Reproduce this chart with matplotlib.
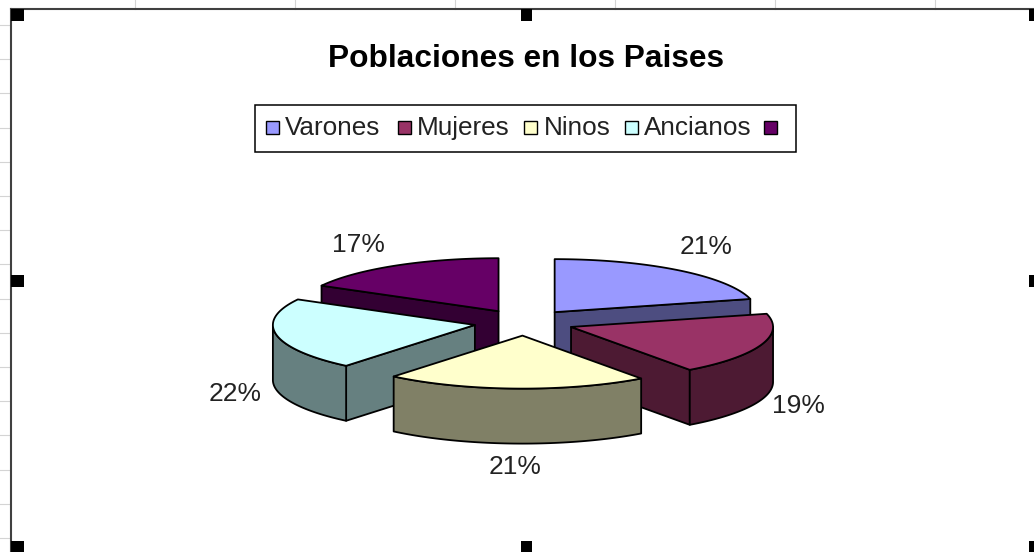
import numpy as np
import matplotlib
matplotlib.use("Agg")
import matplotlib.pyplot as plt
from matplotlib.patches import Polygon, Rectangle

plt.rcParams['font.family'] = ['Liberation Sans', 'DejaVu Sans']

title = "Poblaciones en los Paises"
names = ["Varones", "Mujeres", "Ninos", "Ancianos", ""]
values = [21, 19, 21, 22, 17]
top_colors = ["#9999FF", "#993366", "#FFFFCC", "#CCFFFF", "#660066"]
side_colors = ["#4D4D80", "#4D1A33", "#808066", "#668080", "#330033"]

# pie geometry in pixels
cx, cy = 524, 322.5
rx, ry = 202, 53
depth = 55
explode = 50

# where the percent labels and the legend items sit
label_pos = [(706, 247), (798, 406), (515, 467), (235, 394), (358, 245)]
swatch_x = [266, 398, 524, 625, 764]
name_x = [285, 417, 544, 644, 0]
handles = [(11, 9), (521, 9), (1029, 9), (11, 275), (1029, 275), (11, 541), (521, 541), (1029, 541)]

fig = plt.figure(figsize=(10.34, 5.52), dpi=100)
ax = fig.add_axes([0, 0, 1, 1])
ax.set_xlim(0, 1034)
ax.set_ylim(552, 0)
ax.axis("off")

# spreadsheet grid behind the chart
for x in [135, 295, 455, 615, 775, 935]:
    ax.plot([x, x], [0, 9], color="#d4d4d4", lw=0.8)
for y in np.arange(25, 540, 34.2):
    ax.plot([0, 10], [y, y], color="#d4d4d4", lw=0.8)

# chart frame, open on the right and at the bottom
ax.plot([11, 11], [552, 9], color="#404040", lw=1.5)
ax.plot([11, 1034], [9, 9], color="#404040", lw=1.5)
for x, y in handles:
    ax.add_patch(Rectangle((x, y), 13 if x < 1000 else 5, 12, fc="black", ec="none", zorder=5))
    if x == 521:
        ax.patches[-1].set_width(11)

ax.text(526, 59, title, ha="center", va="center", fontsize=22.8, fontweight="bold", color="black")

ax.add_patch(Rectangle((255, 105), 541, 47, fc="white", ec="black", lw=1.1))
for i in range(len(names)):
    ax.add_patch(Rectangle((swatch_x[i], 121), 13, 13, fc=top_colors[i], ec="black", lw=1.0))
    if names[i]:
        ax.text(name_x[i], 128, names[i], ha="left", va="center", fontsize=18.8, color="#222222")


def point(ax0, ay0, a):
    # angles run clockwise from the top of the pie
    return ax0 + rx * np.sin(a), ay0 - ry * np.cos(a)


def draw_slice(i, start, end):
    mid = (start + end) / 2
    x0 = cx + explode * np.sin(mid)
    y0 = cy - explode * ry / rx * np.cos(mid)
    arc = np.linspace(start, end, 60)
    xs, ys = point(x0, y0, arc)
    kw = dict(fc=side_colors[i], ec="black", lw=1.3, joinstyle="round")

    # walls facing the viewer
    for a, seen in [(start, np.sin(start) < -1e-6), (end, np.sin(end) > 1e-6)]:
        if seen:
            px, py = point(x0, y0, a)
            ax.add_patch(Polygon([(x0, y0), (px, py), (px, py + depth), (x0, y0 + depth)], **kw))
    lo, hi = max(start, np.pi / 2), min(end, 3 * np.pi / 2)
    if hi > lo:
        wall = np.linspace(lo, hi, 60)
        wx, wy = point(x0, y0, wall)
        pts = list(zip(wx, wy)) + list(zip(wx[::-1], wy[::-1] + depth))
        ax.add_patch(Polygon(pts, **kw))

    # top face
    pts = [(x0, y0)] + list(zip(xs, ys))
    ax.add_patch(Polygon(pts, fc=top_colors[i], ec="black", lw=1.3, joinstyle="round"))


angles = np.cumsum([0] + values) / sum(values) * 2 * np.pi
# back slices first so the front ones cover them
for i in [4, 0, 3, 1, 2]:
    draw_slice(i, angles[i], angles[i + 1])

for i in range(len(values)):
    ax.text(label_pos[i][0], label_pos[i][1], f"{values[i]}%", ha="center", va="center",
            fontsize=19, color="#222222")

fig.savefig("out.png", dpi=100)
